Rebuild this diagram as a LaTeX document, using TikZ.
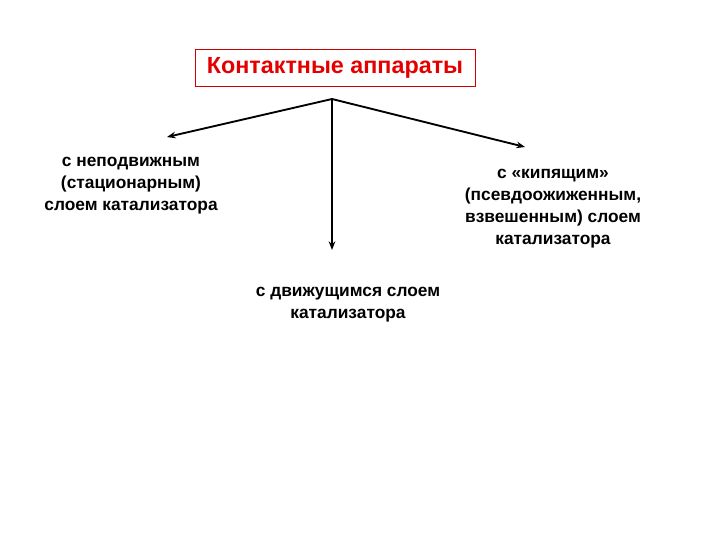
\documentclass[tikz,border=0pt]{standalone}
\usepackage{fontspec}
\setmainfont{Liberation Sans}
\usetikzlibrary{arrows.meta}
\begin{document}
\begin{tikzpicture}[x=0.75pt,y=-0.75pt,
  lbl/.style={align=center,font=\bfseries\fontsize{13}{16.5}\selectfont,inner sep=0pt},
  conn/.style={line width=1.4pt,-{Stealth[length=6.5pt,width=5pt]}}]
\useasboundingbox (0,0) rectangle (720,540);
\node[draw=red!80!black,line width=0.6pt,text=red!90!black,minimum width=280*0.75pt,minimum height=37*0.75pt,inner sep=0pt,font=\bfseries\fontsize{17.5}{20}\selectfont] (title) at (335,67.5) {Контактные аппараты};
\coordinate (apex) at (332,99);
\node[lbl] (left) at (131,186) {с неподвижным\\(стационарным)\\слоем катализатора};
\node[lbl] (right) at (553,209) {с «кипящим»\\(псевдоожиженным,\\взвешенным) слоем\\катализатора};
\node[lbl] (mid) at (348,305) {с движущимся слоем\\катализатора};
\coordinate (lend) at (167,137);
\coordinate (rend) at (525,147);
\coordinate (dend) at (332,250);
\draw[conn] (apex) -- (lend);
\draw[conn] (apex) -- (rend);
\draw[conn] (apex) -- (dend);
\end{tikzpicture}
\end{document}
